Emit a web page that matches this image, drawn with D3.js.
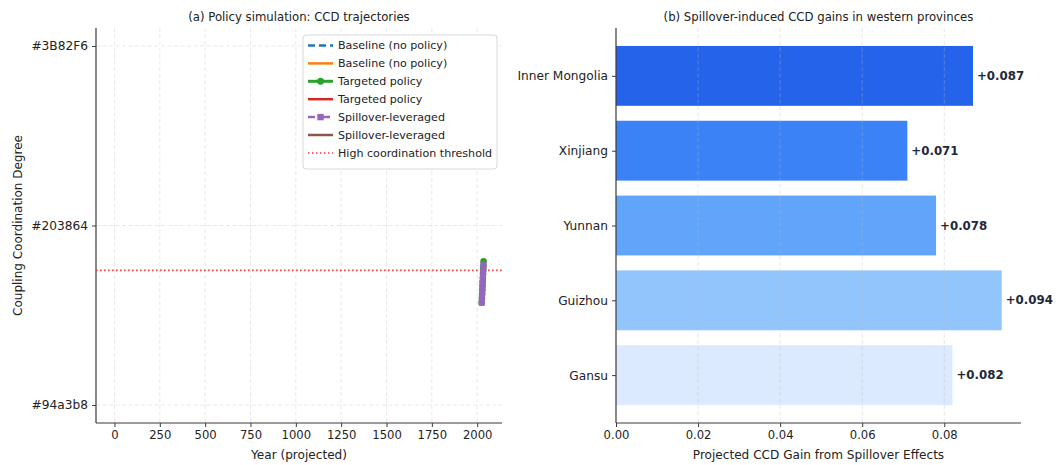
<!DOCTYPE html>
<html>
<head>
<meta charset="utf-8">
<script src="https://cdn.jsdelivr.net/npm/d3@7/dist/d3.min.js"></script>
<style>
  html, body { margin: 0; padding: 0; background: #ffffff; }
  svg { display: block; font-family: "DejaVu Sans", sans-serif; }
</style>
</head>
<body>
<svg id="chart" width="1056" height="465"></svg>
<script>
// ---- Panel (a): projected CCD trajectories ----
const years = [2025, 2026, 2027, 2028, 2029, 2030, 2031, 2032, 2033, 2034, 2035];
const baselineCCD  = [0.57, 0.583, 0.596, 0.608, 0.621, 0.633, 0.646, 0.658, 0.669, 0.681, 0.692];
const targetedCCD  = [0.57, 0.594, 0.617, 0.641, 0.664, 0.687, 0.709, 0.731, 0.754, 0.776, 0.800];
const spilloverCCD = [0.57, 0.591, 0.612, 0.633, 0.654, 0.675, 0.695, 0.716, 0.738, 0.759, 0.780];
const thresholdCCD = 0.75;
// category labels that ended up on the y axis (index 0, 1, 2)
const yCategoryLabels = ["#94a3b8", "#203864", "#3B82F6"];
const xTickValues = [0, 250, 500, 750, 1000, 1250, 1500, 1750, 2000];

// legend entries, in drawing order
const legendLabels = [
  "Baseline (no policy)", "Baseline (no policy)",
  "Targeted policy", "Targeted policy",
  "Spillover-leveraged", "Spillover-leveraged",
  "High coordination threshold"
];

// ---- Panel (b): spillover gains ----
const provinces = ["Gansu", "Guizhou", "Yunnan", "Xinjiang", "Inner Mongolia"];
const gains     = [0.082, 0.094, 0.078, 0.071, 0.087];
const barColors = ["#DBEAFE", "#93C5FD", "#60A5FA", "#3B82F6", "#2563EB"];
const gainTicks = [0.00, 0.02, 0.04, 0.06, 0.08];

const svg = d3.select("#chart");
const spineColor = "#3a3a3a";
const textColor = "#222";
const gridColor = "#d9d9d9";

// ================= Panel (a) =================
const A = { left: 96, right: 502, top: 28, bottom: 423 };
const xA = d3.scaleLinear().domain([-101.75, 2136.75]).range([A.left, A.right]);
const yA = d3.scaleLinear().domain([-0.1, 2.1]).range([A.bottom, A.top]);
const gA = svg.append("g");

// grid
gA.append("g").selectAll("line").data(xTickValues).join("line")
  .attr("x1", d => xA(d)).attr("x2", d => xA(d))
  .attr("y1", A.top).attr("y2", A.bottom)
  .attr("stroke", gridColor).attr("stroke-width", 0.8).attr("stroke-dasharray", "4,2.5").attr("opacity", 0.7);
gA.append("g").selectAll("line").data([0, 1, 2]).join("line")
  .attr("x1", A.left).attr("x2", A.right)
  .attr("y1", d => yA(d)).attr("y2", d => yA(d))
  .attr("stroke", gridColor).attr("stroke-width", 0.8).attr("stroke-dasharray", "4,2.5").attr("opacity", 0.7);

// axes
function styleAxis(size) {
  return g => {
    g.select(".domain").remove();
    g.selectAll(".tick line").attr("stroke", spineColor).attr("stroke-width", 1);
    g.selectAll(".tick text").attr("fill", textColor).style("font-size", size).style("font-family", "DejaVu Sans");
  };
}
const xAxisA = d3.axisBottom(xA).tickValues(xTickValues).tickSize(4).tickPadding(4).tickFormat(d3.format("d"));
const yAxisA = d3.axisLeft(yA).tickValues([0, 1, 2]).tickSize(4).tickPadding(4).tickFormat(i => yCategoryLabels[i]);
gA.append("g").attr("transform", `translate(0,${A.bottom})`).call(xAxisA).call(styleAxis("11.6px"));
gA.append("g").attr("transform", `translate(${A.left},0)`).call(yAxisA).call(styleAxis("12.2px"));
gA.append("line").attr("x1", A.left).attr("x2", A.right).attr("y1", A.bottom).attr("y2", A.bottom)
  .attr("stroke", spineColor).attr("stroke-width", 1.2);
gA.append("line").attr("x1", A.left).attr("x2", A.left).attr("y1", A.top).attr("y2", A.bottom)
  .attr("stroke", spineColor).attr("stroke-width", 1.2);

// threshold
gA.append("line").attr("x1", A.left).attr("x2", A.right)
  .attr("y1", yA(thresholdCCD)).attr("y2", yA(thresholdCCD))
  .attr("stroke", "#ee3a3a").attr("stroke-width", 1.6).attr("stroke-dasharray", "1.6,2.4").attr("opacity", 0.95);

// trajectories
const lineA = d3.line().x((d, i) => xA(years[i])).y(d => yA(d));
gA.append("path").datum(baselineCCD).attr("d", lineA)
  .attr("fill", "none").attr("stroke", "#1f77b4").attr("stroke-width", 2.5).attr("stroke-dasharray", "9,4");
gA.append("path").datum(targetedCCD).attr("d", lineA)
  .attr("fill", "none").attr("stroke", "#2ca02c").attr("stroke-width", 3);
gA.append("g").selectAll("circle").data(targetedCCD).join("circle")
  .attr("cx", (d, i) => xA(years[i])).attr("cy", d => yA(d)).attr("r", 3.3).attr("fill", "#2ca02c");
gA.append("path").datum(spilloverCCD).attr("d", lineA)
  .attr("fill", "none").attr("stroke", "#9467bd").attr("stroke-width", 2.5).attr("stroke-dasharray", "9,3,2,3");
gA.append("g").selectAll("rect").data(spilloverCCD).join("rect")
  .attr("x", (d, i) => xA(years[i]) - 3).attr("y", d => yA(d) - 3)
  .attr("width", 6).attr("height", 6).attr("fill", "#9467bd");

// titles and labels
svg.append("text").attr("x", (A.left + A.right) / 2).attr("y", 21).attr("text-anchor", "middle")
  .attr("fill", textColor).style("font-size", "11.7px").text("(a) Policy simulation: CCD trajectories");
svg.append("text").attr("x", (A.left + A.right) / 2).attr("y", 459).attr("text-anchor", "middle")
  .attr("fill", textColor).style("font-size", "12.1px").text("Year (projected)");
svg.append("text").attr("transform", `translate(22,${(A.top + A.bottom) / 2}) rotate(-90)`)
  .attr("text-anchor", "middle").attr("fill", textColor).style("font-size", "12px")
  .text("Coupling Coordination Degree");

// legend
const L = { x: 303, y: 35, w: 194, h: 134, row: 17.9 };
const gL = svg.append("g");
gL.append("rect").attr("x", L.x).attr("y", L.y).attr("width", L.w).attr("height", L.h)
  .attr("rx", 3).attr("fill", "#ffffff").attr("fill-opacity", 0.85).attr("stroke", "#d8d8d8").attr("stroke-width", 1);
const legendStyles = [
  { color: "#1f77b4", width: 2.5, dash: "7,4", marker: null },
  { color: "#ff7f0e", width: 2.5, dash: null, marker: null },
  { color: "#2ca02c", width: 3, dash: null, marker: "circle" },
  { color: "#d62728", width: 2.5, dash: null, marker: null },
  { color: "#9467bd", width: 2.5, dash: "7,3,2,3", marker: "square" },
  { color: "#8c564b", width: 2.5, dash: null, marker: null },
  { color: "#ee3a3a", width: 1.5, dash: "1.5,2.5", marker: null }
];
legendLabels.forEach((label, i) => {
  const cy = L.y + 10.5 + i * L.row;
  const s = legendStyles[i];
  const x1 = L.x + 5, x2 = L.x + 30;
  gL.append("line").attr("x1", x1).attr("x2", x2).attr("y1", cy).attr("y2", cy)
    .attr("stroke", s.color).attr("stroke-width", s.width).attr("stroke-dasharray", s.dash);
  if (s.marker === "circle") {
    gL.append("circle").attr("cx", (x1 + x2) / 2).attr("cy", cy).attr("r", 3.5).attr("fill", s.color);
  } else if (s.marker === "square") {
    gL.append("rect").attr("x", (x1 + x2) / 2 - 3.2).attr("y", cy - 3.2).attr("width", 6.4).attr("height", 6.4).attr("fill", s.color);
  }
  gL.append("text").attr("x", L.x + 35).attr("y", cy + 3.9).attr("fill", textColor)
    .style("font-size", "11.1px").text(label);
});

// ================= Panel (b) =================
const B = { left: 616, right: 1021, top: 28, bottom: 423 };
const xB = d3.scaleLinear().domain([0, d3.max(gains) * 1.05]).range([B.left, B.right]);
const yB = d3.scaleLinear().domain([-0.64, 4.64]).range([B.bottom, B.top]);
const bandPx = yB(0) - yB(1);
const gB = svg.append("g");

// bars
gB.append("g").selectAll("rect").data(gains).join("rect")
  .attr("x", xB(0)).attr("y", (d, i) => yB(i + 0.4))
  .attr("width", d => xB(d) - xB(0)).attr("height", 0.8 * bandPx)
  .attr("fill", (d, i) => barColors[i]);

// x grid over bars, faint
gB.append("g").selectAll("line").data(gainTicks.slice(1)).join("line")
  .attr("x1", d => xB(d)).attr("x2", d => xB(d)).attr("y1", B.top).attr("y2", B.bottom)
  .attr("stroke", "#bdbdbd").attr("stroke-width", 0.8).attr("stroke-dasharray", "4,2.5").attr("opacity", 0.45);

// value labels
gB.append("g").selectAll("text").data(gains).join("text")
  .attr("x", d => xB(d) + 4).attr("y", (d, i) => yB(i) + 4)
  .attr("fill", "#1e293b").style("font-size", "11.8px").style("font-weight", "bold")
  .text(d => "+" + d3.format(".3f")(d));

// axes
const xAxisB = d3.axisBottom(xB).tickValues(gainTicks).tickSize(4).tickPadding(4).tickFormat(d3.format(".2f"));
const yAxisB = d3.axisLeft(yB).tickValues([0, 1, 2, 3, 4]).tickSize(4).tickPadding(4).tickFormat(i => provinces[i]);
gB.append("g").attr("transform", `translate(0,${B.bottom})`).call(xAxisB).call(styleAxis("11.6px"));
gB.append("g").attr("transform", `translate(${B.left},0)`).call(yAxisB).call(styleAxis("12.2px"));
gB.append("line").attr("x1", B.left).attr("x2", B.right).attr("y1", B.bottom).attr("y2", B.bottom)
  .attr("stroke", spineColor).attr("stroke-width", 1.2);
gB.append("line").attr("x1", B.left).attr("x2", B.left).attr("y1", B.top).attr("y2", B.bottom)
  .attr("stroke", spineColor).attr("stroke-width", 1.2);

svg.append("text").attr("x", (B.left + B.right) / 2).attr("y", 21).attr("text-anchor", "middle")
  .attr("fill", textColor).style("font-size", "11.7px").text("(b) Spillover-induced CCD gains in western provinces");
svg.append("text").attr("x", (B.left + B.right) / 2).attr("y", 459).attr("text-anchor", "middle")
  .attr("fill", textColor).style("font-size", "12.1px").text("Projected CCD Gain from Spillover Effects");
</script>
</body>
</html>
